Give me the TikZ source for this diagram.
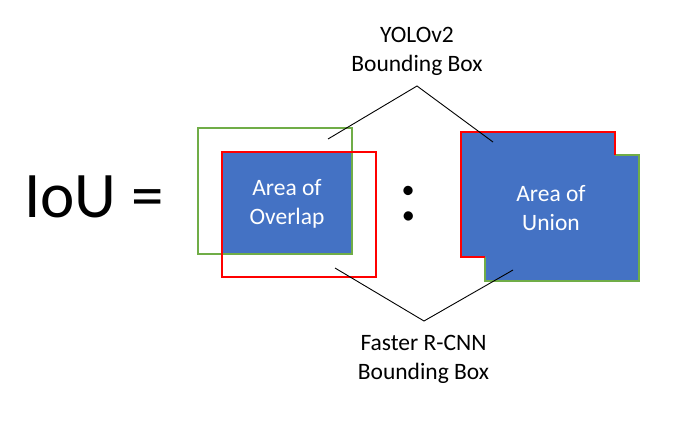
\documentclass[tikz,border=0pt]{standalone}
\usepackage{fontspec}
\setmainfont{Carlito}
\definecolor{areablue}{HTML}{4472C4}
\definecolor{yologreen}{HTML}{70AD47}
\definecolor{rcnnred}{HTML}{FF0000}

\begin{document}
\begin{tikzpicture}[x=1pt,y=-1pt,
  captext/.style={align=center,inner sep=0pt,font=\fontsize{23.5}{29}\selectfont},
  areatext/.style={captext,text=white},
  bigtext/.style={inner sep=0pt,font=\fontsize{65}{70}\selectfont},
  yolobox/.style={draw=yologreen,line width=2pt},
  rcnnbox/.style={draw=rcnnred,line width=2pt},
  pointer/.style={black,line width=0.9pt}]
\useasboundingbox (0,0) rectangle (698,432);
% left side: overlap
\fill[areablue] (222,152) rectangle (352,254);
\draw[yolobox] (198,128) rectangle (352,254);
\draw[rcnnbox] (222,152) rectangle (376,277);
\node[areatext] (overlap) at (287,204) {Area of\\Overlap};
% right side: union
\fill[areablue] (461,132) -- (615,132) -- (615,155) -- (639,155) -- (639,281)
  -- (485,281) -- (485,257) -- (461,257) -- cycle;
\draw[yolobox] (615,155) -- (639,155) -- (639,281) -- (485,281) -- (485,257);
\draw[rcnnbox] (485,257) -- (461,257) -- (461,132) -- (615,132) -- (615,155);
\node[areatext] (union) at (551,208.5) {Area of\\Union};
% formula
\node[bigtext,anchor=base west] (iou) at (24,217) {IoU =};
\node[bigtext,font=\fontsize{77}{80}\selectfont] (ratio) at (409,203.5) {:};
% captions and pointers
\node[captext] (yolo) at (417,51.5) {YOLOv2\\Bounding Box};
\node[captext] (rcnn) at (423.5,359.5) {Faster R-CNN\\Bounding Box};
\coordinate (yoloL) at (328,139);
\coordinate (yoloTop) at (417,86);
\coordinate (yoloR) at (493,142);
\coordinate (rcnnL) at (335,268);
\coordinate (rcnnBot) at (424,321);
\coordinate (rcnnR) at (513,270);
\draw[pointer] (yoloL) -- (yoloTop) -- (yoloR);
\draw[pointer] (rcnnL) -- (rcnnBot) -- (rcnnR);
\end{tikzpicture}
\end{document}
